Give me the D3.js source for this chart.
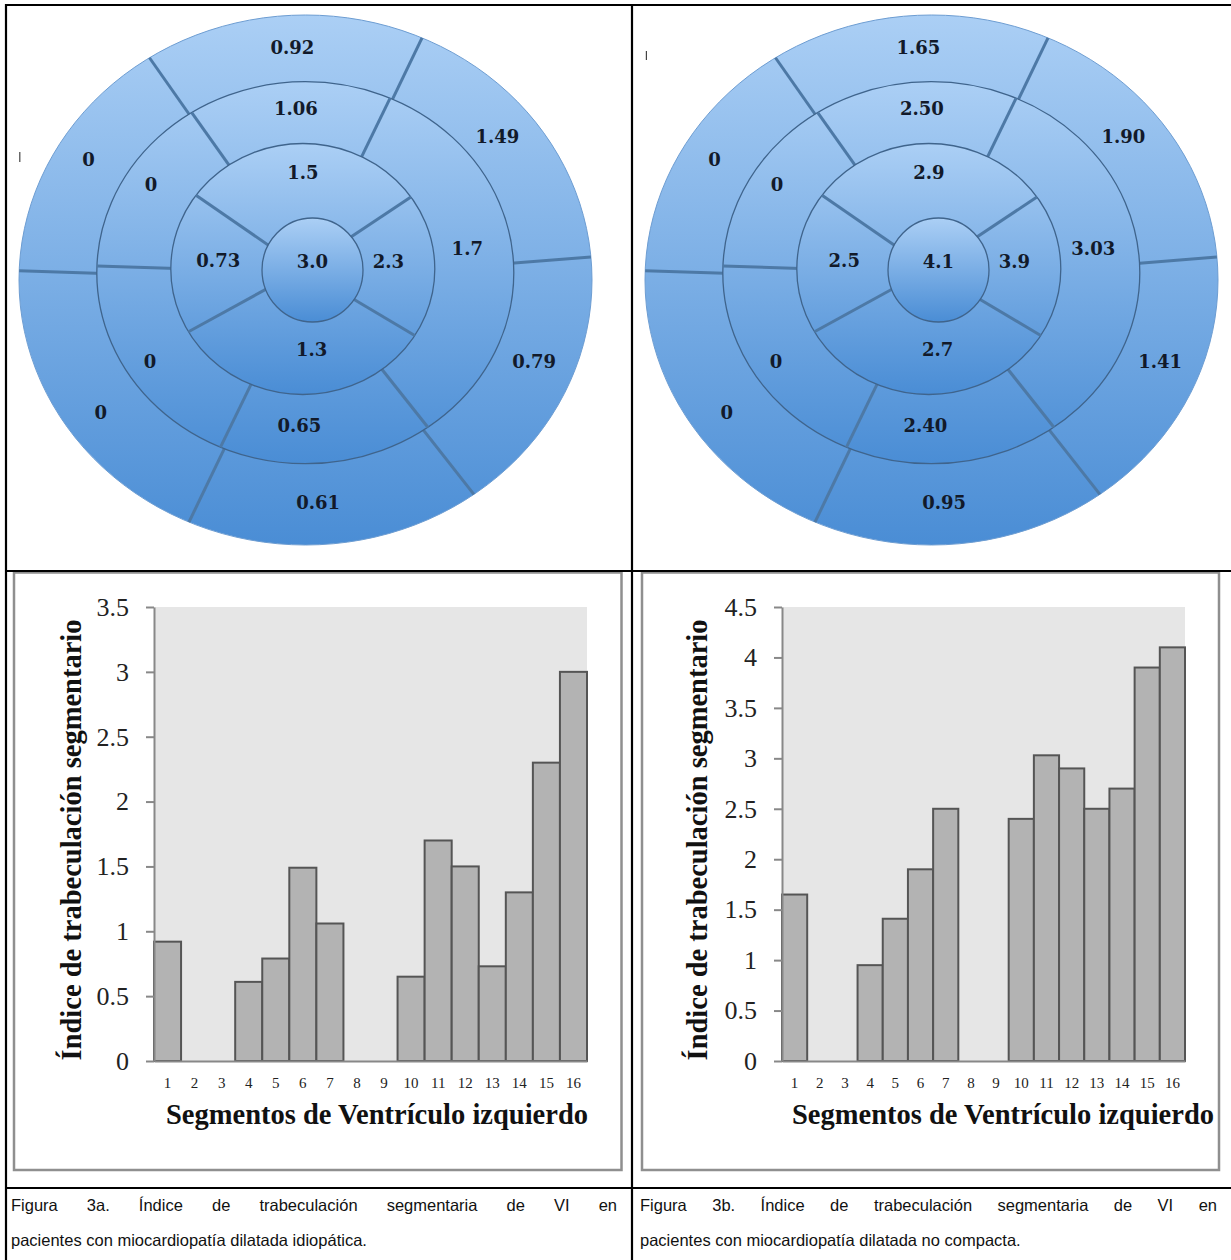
<!DOCTYPE html>
<html>
<head>
<meta charset="utf-8">
<script src="https://cdn.jsdelivr.net/npm/d3@7"></script>
<style>
  body { margin: 0; background: #fff; }
  svg { display: block; }
</style>
</head>
<body>
<svg id="fig" width="1231" height="1260"></svg>
<script>
'use strict';
// Figura 3a / 3b: indice de trabeculacion por segmento del VI (bull's-eye + barras)

// segment numbers: basal 1-6, mid 7-11, apical 12-15, apex 16
var segments = d3.range(1, 17);

var valuesA = [0.92, 0, 0, 0.61, 0.79, 1.49, 1.06, 0, 0, 0.65, 1.7, 1.5, 0.73, 1.3, 2.3, 3.0];
var labelsA = ["0.92", "0", "0", "0.61", "0.79", "1.49", "1.06", "0", "0", "0.65", "1.7", "1.5", "0.73", "1.3", "2.3", "3.0"];

var valuesB = [1.65, 0, 0, 0.95, 1.41, 1.90, 2.50, 0, 0, 2.40, 3.03, 2.9, 2.5, 2.7, 3.9, 4.1];
var labelsB = ["1.65", "0", "0", "0.95", "1.41", "1.90", "2.50", "0", "0", "2.40", "3.03", "2.9", "2.5", "2.7", "3.9", "4.1"];

var yTicksA = [0, 0.5, 1, 1.5, 2, 2.5, 3, 3.5];
var yTicksB = [0, 0.5, 1, 1.5, 2, 2.5, 3, 3.5, 4, 4.5];

var yTitle = "Índice de trabeculación segmentario";
var xTitle = "Segmentos de Ventrículo izquierdo";

var captionA = ["Figura 3a. Índice de trabeculación segmentaria de VI en", "pacientes con miocardiopatía dilatada idiopática."];
var captionB = ["Figura 3b. Índice de trabeculación segmentaria de VI en", "pacientes con miocardiopatía dilatada no compacta."];

// ---- layout: bull's-eye rings drawn as stacked ellipses
// spans: [segment, start angle, end angle, label angle, label radius] (degrees ccw from 3 o'clock)
var bullRings = [
  { cx: 299.5, cy: 280, rx: 286.5, ry: 265,
    spans: [[6, 5, 66, 39, 247], [1, 66, 123, 93, 252], [2, 123, 178, 149, 253],
            [3, 178, 246, 215, 250], [4, 246, 306, 273, 241], [5, 306, 365, 339, 245]] },
  { cx: 299.3, cy: 272.7, rx: 208.5, ry: 191,
    spans: [[11, -54, 66, 9, 164], [7, 66, 123, 93, 179], [8, 123, 178, 148, 182],
            [9, 178, 246, 212, 183], [10, 246, 306, 268, 167]] },
  { cx: 296.8, cy: 269, rx: 132, ry: 125.5,
    spans: [[15, -32, 35, 5, 86], [12, 35, 144, 90, 101], [13, 144, 210, 174, 85],
            [14, 210, 328, 276, 85]] },
  { cx: 306.5, cy: 270, rx: 50.5, ry: 52,
    spans: [[16, 0, 360, 90, 8]] }
];

var plotTop = 607, plotBottom = 1061;

var panels = [
  { key: "a", ox: 6, values: valuesA, labels: labelsA, ticks: yTicksA, caption: captionA,
    plotX0: 148, plotX1: 581, boxX0: 8, boxX1: 615.5, capX0: 5, capX1: 611, cursor: [13.8, 152, 162] },
  { key: "b", ox: 632, values: valuesB, labels: labelsB, ticks: yTicksB, caption: captionB,
    plotX0: 150, plotX1: 553, boxX0: 10, boxX1: 587, capX0: 8, capX1: 585, cursor: [14.4, 51, 60] }
];

var svg = d3.select("#fig");
var defs = svg.append("defs");
var arc = d3.arc();
function rad(a) { return a * Math.PI / 180; }
// math angle span -> d3 arc angles (clockwise from 12 o'clock)
function arcOf(s, r0, r1) {
  return { innerRadius: r0, outerRadius: r1, startAngle: rad(90 - s[2]), endAngle: rad(90 - s[1]) };
}

function drawBull(g, p) {
  bullRings.forEach(function(ring, ri) {
    var k = ring.ry / ring.rx;
    var gradId = "grad-" + p.key + "-" + ri;
    var grad = defs.append("linearGradient").attr("id", gradId)
        .attr("gradientUnits", "userSpaceOnUse")
        .attr("x1", 0).attr("y1", -ring.rx).attr("x2", 0).attr("y2", ring.rx);
    grad.append("stop").attr("offset", 0).attr("stop-color", "#abcff5");
    grad.append("stop").attr("offset", 1).attr("stop-color", "#4a8dd5");

    var rg = g.append("g")
        .attr("transform", "translate(" + ring.cx + "," + ring.cy + ") scale(1," + k + ")");

    rg.selectAll("path.seg")
      .data(ring.spans)
      .join("path")
        .attr("class", "seg")
        .attr("d", function(s) { return arc(arcOf(s, 0, ring.rx)); })
        .attr("fill", "url(#" + gradId + ")");

    rg.append("circle")
        .attr("r", ring.rx)
        .attr("fill", "none")
        .attr("stroke", ri === 0 ? "#6d9dd2" : "#3f648c")
        .attr("stroke-width", ri === 0 ? 1 : 1.3)
        .attr("vector-effect", "non-scaling-stroke");

    if (ring.spans.length > 1) {
      rg.selectAll("line.div")
        .data(ring.spans)
        .join("line")
          .attr("class", "div")
          .attr("x1", 0).attr("y1", 0)
          .attr("x2", function(s) { return ring.rx * Math.cos(rad(s[1])); })
          .attr("y2", function(s) { return -ring.rx * Math.sin(rad(s[1])); })
          .attr("stroke", "#4d79a6")
          .attr("stroke-width", 3)
          .attr("vector-effect", "non-scaling-stroke");
    }
  });

  // values on each segment
  var lab = g.append("g")
      .style("font-family", "'DejaVu Serif', serif")
      .style("font-weight", "bold")
      .style("font-size", "18px")
      .attr("fill", "#121a2a")
      .attr("text-anchor", "middle");
  bullRings.forEach(function(ring) {
    var k = ring.ry / ring.rx;
    ring.spans.forEach(function(s) {
      lab.append("text")
          .attr("x", ring.cx + s[4] * Math.cos(rad(s[3])))
          .attr("y", ring.cy - s[4] * k * Math.sin(rad(s[3])))
          .attr("dy", "0.35em")
          .text(p.labels[s[0] - 1]);
    });
  });

  // stray cursor mark in the original picture
  g.append("line")
      .attr("x1", p.cursor[0]).attr("x2", p.cursor[0])
      .attr("y1", p.cursor[1]).attr("y2", p.cursor[2])
      .attr("stroke", "#444").attr("stroke-width", 1.2);
}

function drawBars(g, p) {
  var x = d3.scaleBand().domain(segments).range([p.plotX0, p.plotX1]).padding(0);
  var y = d3.scaleLinear().domain([0, d3.max(p.ticks)]).range([plotBottom, plotTop]);

  // chart frame
  g.append("rect")
      .attr("x", p.boxX0).attr("y", 572.5)
      .attr("width", p.boxX1 - p.boxX0).attr("height", 1170 - 572.5)
      .attr("fill", "#fff").attr("stroke", "#8f8f8f").attr("stroke-width", 2.5);

  g.append("rect")
      .attr("x", p.plotX0).attr("y", y(d3.max(p.ticks)))
      .attr("width", p.plotX1 - p.plotX0).attr("height", y(0) - y(d3.max(p.ticks)))
      .attr("fill", "#e6e6e6");

  g.append("g")
    .selectAll("rect")
    .data(segments)
    .join("rect")
      .attr("x", function(d) { return x(d); })
      .attr("width", x.bandwidth())
      .attr("y", function(d) { return y(p.values[d - 1]); })
      .attr("height", function(d) { return y(0) - y(p.values[d - 1]); })
      .attr("fill", "#b3b3b3")
      .attr("stroke", "#555")
      .attr("stroke-width", 2);

  var axisLeft = g.append("g")
      .attr("transform", "translate(" + p.plotX0 + ",0)")
      .call(d3.axisLeft(y).tickValues(p.ticks).tickFormat(d3.format("")).tickSize(8).tickSizeOuter(0).tickPadding(17));
  axisLeft.select(".domain").attr("stroke", "#888").attr("stroke-width", 2);
  axisLeft.selectAll(".tick line").attr("stroke", "#888").attr("stroke-width", 2);
  axisLeft.selectAll(".tick text")
      .style("font-family", "'Liberation Serif', serif")
      .style("font-size", "26px")
      .attr("fill", "#222");

  var axisBottom = g.append("g")
      .attr("transform", "translate(0," + y(0) + ")")
      .call(d3.axisBottom(x).tickSize(0).tickPadding(16));
  axisBottom.select(".domain").attr("stroke", "#888").attr("stroke-width", 2);
  axisBottom.selectAll(".tick text")
      .style("font-family", "'Liberation Serif', serif")
      .style("font-size", "15px")
      .attr("fill", "#222");

  g.append("text")
      .attr("transform", "translate(65,840) rotate(-90)")
      .attr("text-anchor", "middle")
      .attr("dy", "0.35em")
      .style("font-family", "'Liberation Serif', serif")
      .style("font-weight", "bold")
      .style("font-size", "28.5px")
      .attr("fill", "#111")
      .text(yTitle);

  g.append("text")
      .attr("x", 371).attr("y", 1114.5)
      .attr("text-anchor", "middle")
      .attr("dy", "0.35em")
      .style("font-family", "'Liberation Serif', serif")
      .style("font-weight", "bold")
      .style("font-size", "28.5px")
      .attr("fill", "#111")
      .text(xTitle);
}

function drawCaption(g, p) {
  var cap = g.append("g")
      .style("font-family", "'Liberation Sans', Arial, sans-serif")
      .style("font-size", "16.5px")
      .attr("fill", "#111");
  // first line justified over the cell width
  var words = p.caption[0].split(" ");
  var tmp = words.map(function(w) {
    var t = cap.append("text").attr("y", 1211).text(w);
    return { t: t, w: t.node().getComputedTextLength() };
  });
  var total = d3.sum(tmp, function(d) { return d.w; });
  var gap = (p.capX1 - p.capX0 - total) / (words.length - 1);
  var cx = p.capX0;
  tmp.forEach(function(d) {
    d.t.attr("x", cx);
    cx += d.w + gap;
  });
  cap.append("text").attr("x", p.capX0).attr("y", 1246).text(p.caption[1]);
}

panels.forEach(function(p) {
  var g = svg.append("g").attr("transform", "translate(" + p.ox + ",0)");
  drawBull(g, p);
  drawBars(g, p);
  drawCaption(g, p);
});

// table rules
var rules = svg.append("g").attr("stroke", "#000").attr("stroke-width", 2.2);
rules.append("line").attr("x1", 5).attr("x2", 1231).attr("y1", 5).attr("y2", 5);
rules.append("line").attr("x1", 6).attr("x2", 6).attr("y1", 4).attr("y2", 1260);
rules.append("line").attr("x1", 632).attr("x2", 632).attr("y1", 4).attr("y2", 1260);
rules.append("line").attr("x1", 5).attr("x2", 1231).attr("y1", 571).attr("y2", 571);
rules.append("line").attr("x1", 5).attr("x2", 1231).attr("y1", 1188).attr("y2", 1188);
</script>
</body>
</html>
